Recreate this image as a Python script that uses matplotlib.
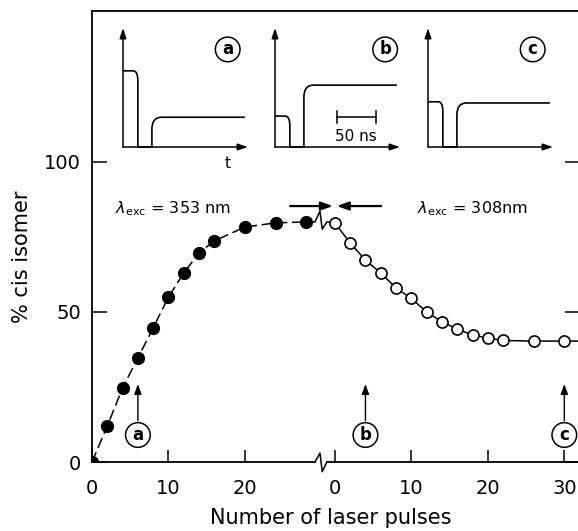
import numpy as np
import matplotlib
matplotlib.use('Agg')
import matplotlib.pyplot as plt
from matplotlib.path import Path
from matplotlib.patches import PathPatch

plt.rcParams['font.family'] = ['DejaVu Sans']
plt.rcParams['mathtext.fontset'] = 'dejavusans'

# --- data ---
pulses_353 = [0, 2, 4, 6, 8, 10, 12, 14, 16, 20, 24, 28]
cis_353 = [0, 12, 24.7, 34.7, 44.7, 55, 63, 69.7, 73.7, 78.3, 79.7, 80]
pulses_308 = [0, 2, 4, 6, 8, 10, 12, 14, 16, 18, 20, 22, 26, 30]
cis_308 = [79.7, 73, 67.3, 63, 58, 54.5, 50, 46.7, 44.3, 42.3, 41.3, 40.5, 40.3, 40.3]

xticks_353 = [0, 10, 20]
xticks_308 = [0, 10, 20, 30]
yticks = [0, 50, 100]

# marked pulses (series, pulse number) and the oscilloscope traces
marks = [('a', '353', 6), ('b', '308', 4), ('c', '308', 30)]
first_pulse = [0.64, 0.26, 0.38]   # height of the first (excitation) pulse
second_pulse = [0.25, 0.52, 0.37]  # height of the second (probe) signal
t_first_end = 19    # ns
t_second_start = 37  # ns
t_stop = 156        # ns
t_axis = 160        # ns
scale_bar = [79, 129]  # 50 ns
trace_label_t = [134, 141, 134]

offset = 31.75   # where the 308 nm series starts on the common axis
xbreak = 29.9
xmax = 63.8
ymax = 150.3

lw = 1.1
fig = plt.figure(figsize=(5.78, 5.31), dpi=100)


def fx(px):
    return px / 578


def fy(py):
    return 1 - py / 531


ax = fig.add_axes([fx(92), fy(462), 488 / 578, 451 / 531])
ax.set_xlim(0, xmax)
ax.set_ylim(0, ymax)

x308 = [offset + p for p in pulses_308]

# 353 nm: filled points, dashed line
ax.plot(pulses_353, cis_353, color='k', lw=lw, dashes=(7, 3))
ax.plot(pulses_353, cis_353, 'o', color='k', ms=8.5, zorder=4)

# connector across the break
zx = [xbreak - 0.75, xbreak - 0.1, xbreak + 0.2, xbreak + 0.8]
zy = [0, 3.6, -2.4, 0]
ax.plot([pulses_353[-1]] + zx + [x308[0]],
        [cis_353[-1]] + [cis_353[-1] + d for d in zy] + [cis_308[0]],
        color='k', lw=lw)

# 308 nm: open points, solid line
ax.plot(x308 + [xmax], cis_308 + [cis_308[-1]], color='k', lw=lw, clip_on=False)
ax.plot(x308, cis_308, 'o', mfc='white', mec='k', mew=1.2, ms=8, zorder=4)

# axes frame
for s in ['bottom', 'right']:
    ax.spines[s].set_visible(False)
for s in ['left', 'top']:
    ax.spines[s].set_linewidth(lw + 0.2)
ax.plot([0, zx[0]], [0, 0], color='k', lw=lw + 0.2, clip_on=False)
ax.plot(zx, [v * 0.9 for v in [0, 3.3, -3.6, 0]], color='k', lw=lw, clip_on=False)
ax.plot([zx[-1], xmax], [0, 0], color='k', lw=lw + 0.2, clip_on=False)

ax.set_xticks(xticks_353 + [offset + v for v in xticks_308])
ax.set_xticklabels([str(v) for v in xticks_353 + xticks_308])
ax.set_yticks(yticks)
ax.set_yticklabels([str(v) for v in yticks])
ax.tick_params(axis='x', direction='in', length=8.6, width=lw, labelsize=14, pad=12)
ax.tick_params(axis='y', direction='in', length=10.5, width=lw, labelsize=14, pad=8,
               right=True)
ax.tick_params(axis='y', which='major', labelright=False)

ax.set_xlabel('Number of laser pulses', fontsize=15, va='center')
ax.set_ylabel('% cis isomer', fontsize=15, va='center')
ax.xaxis.set_label_coords(0.49, -0.124)
ax.yaxis.set_label_coords(-0.143, 0.455)

# excitation wavelengths
ax.text(3.0, 83, r'$\lambda_{\rm exc}$ = 353 nm', fontsize=11.5, va='baseline')
ax.text(42.5, 83, r'$\lambda_{\rm exc}$ = 308nm', fontsize=11.5, va='baseline')
arrow = dict(arrowstyle='-|>,head_length=0.7,head_width=0.25', lw=1.6, color='k',
             shrinkA=0, shrinkB=0)
ax.annotate('', xy=(offset - 0.25, 85.3), xytext=(25.9, 85.3), arrowprops=arrow)
ax.annotate('', xy=(offset + 0.25, 85.3), xytext=(37.8, 85.3), arrowprops=arrow)

# circled labels under the curve
circ = dict(boxstyle='circle,pad=0.2', fc='white', ec='k', lw=1.1)
small_arrow = dict(arrowstyle='-|>,head_length=0.5,head_width=0.18', lw=1.0, color='k',
                   shrinkA=1, shrinkB=0)
for lab, series, p in marks:
    xp = p if series == '353' else offset + p
    ax.annotate(lab, xy=(xp, 26), xytext=(xp, 9), ha='center', va='center',
                fontsize=12, fontweight='bold', bbox=circ, arrowprops=small_arrow)

# oscilloscope traces
M, L, C = Path.MOVETO, Path.LINETO, Path.CURVE3
for i, x0 in enumerate([123, 275, 428]):
    iax = fig.add_axes([fx(x0), fy(147), 125 / 578, 119 / 531])
    iax.set_xlim(0, t_axis)
    iax.set_ylim(0, 1)
    iax.axis('off')
    h1, h2 = first_pulse[i], second_pulse[i]
    verts = [(0, h1), (t_first_end - 6, h1), (t_first_end, h1), (t_first_end, h1 - 0.08),
             (t_first_end, 0), (t_second_start, 0), (t_second_start, h2 - 0.1),
             (t_second_start, h2), (t_second_start + 12, h2), (t_stop, h2)]
    codes = [M, L, C, C, L, L, L, C, C, L]
    iax.add_patch(PathPatch(Path(verts, codes), fc='none', ec='k', lw=lw + 0.1,
                            clip_on=False))
    ar = dict(arrowstyle='-|>,head_length=0.6,head_width=0.2', lw=lw, color='k',
              shrinkA=0, shrinkB=0)
    iax.annotate('', xy=(0, 1), xytext=(0, 0), arrowprops=ar)
    iax.annotate('', xy=(t_axis, 0), xytext=(0, 0), arrowprops=ar)
    iax.text(trace_label_t[i], 0.82, marks[i][0], ha='center', va='center',
             fontsize=12, fontweight='bold', bbox=circ)
    if i == 0:
        iax.text(134, -0.14, 't', ha='center', va='center', fontsize=11)
    if i == 1:
        iax.plot(scale_bar, [0.25, 0.25], color='k', lw=lw)
        for t in scale_bar:
            iax.plot([t, t], [0.2, 0.3], color='k', lw=lw)
        iax.text(np.mean(scale_bar), 0.085, '50 ns', ha='center', va='center', fontsize=11)

fig.savefig('out.png', dpi=100)
